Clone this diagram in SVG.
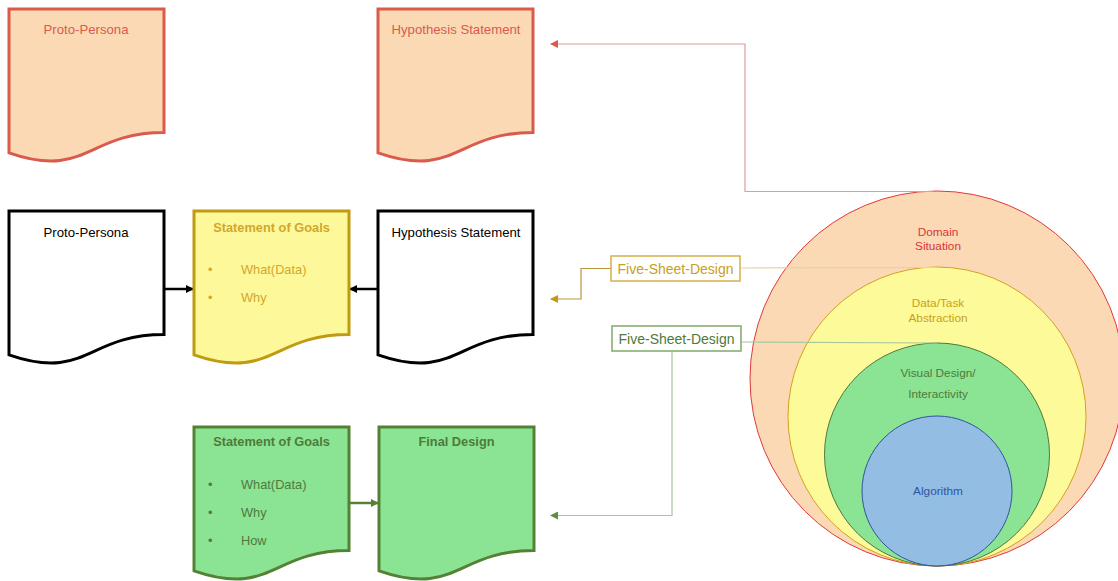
<svg xmlns="http://www.w3.org/2000/svg" xmlns:xlink="http://www.w3.org/1999/xlink" width="1118" height="581" viewBox="0 0 1118 581">
<style>
text{font-family:"Liberation Sans","Open Sans",sans-serif;}
.red{fill:#FBD9B5;stroke:#DA5A4B;stroke-width:3;}
.blk{fill:#ffffff;stroke:#000000;stroke-width:3;}
.yel{fill:#FDF99A;stroke:#C09A10;stroke-width:3;}
.grn{fill:#8AE494;stroke:#548235;stroke-width:3;}
.t{font-size:13.2px;text-anchor:middle;}
.b{font-weight:bold;font-size:12.8px;}
.li{font-size:12.8px;}
.ct{font-size:11.8px;text-anchor:middle;}
.fsd{font-size:14px;text-anchor:middle;}
</style>
<defs>
<path id="doc" d="M0,0 H155 V123.5 C77.5,123.5 77.5,170.6 0,143.8 Z"/>
<marker id="mBlk" markerWidth="8" markerHeight="8" refX="7" refY="4" orient="auto" markerUnits="userSpaceOnUse"><path d="M0,0 L8,4 L0,8 Z" fill="#000"/></marker>
<marker id="mGrn" markerWidth="8" markerHeight="8" refX="7" refY="4" orient="auto" markerUnits="userSpaceOnUse"><path d="M0,0 L8,4 L0,8 Z" fill="#548235"/></marker>
<marker id="mRed" markerWidth="8" markerHeight="8" refX="7" refY="4" orient="auto" markerUnits="userSpaceOnUse"><path d="M0,0 L8,4 L0,8 Z" fill="#DA5A4B"/></marker>
<marker id="mGold" markerWidth="8" markerHeight="8" refX="7" refY="4" orient="auto" markerUnits="userSpaceOnUse"><path d="M0,0 L8,4 L0,8 Z" fill="#C09A10"/></marker>
<marker id="mGrn2" markerWidth="8" markerHeight="8" refX="7" refY="4" orient="auto" markerUnits="userSpaceOnUse"><path d="M0,0 L8,4 L0,8 Z" fill="#5E8E42"/></marker>
</defs>

<g id="circles">
<ellipse cx="937" cy="378.5" rx="187" ry="187.5" fill="#FBD9B5" stroke="#E03A3A" stroke-width="1"/>
<ellipse cx="937" cy="416.5" rx="149" ry="149.5" fill="#FDFA9A" stroke="#D4A020" stroke-width="1"/>
<ellipse cx="937" cy="454.5" rx="112.5" ry="111.5" fill="#8AE494" stroke="#4E7A3A" stroke-width="1"/>
<ellipse cx="937" cy="491" rx="75" ry="75" fill="#93BDE2" stroke="#2F55A0" stroke-width="1"/>
<text class="ct" x="938" y="236" fill="#D9343A">Domain</text>
<text class="ct" x="938" y="250" fill="#D9343A">Situation</text>
<text class="ct" x="938" y="307" fill="#C9A020">Data/Task</text>
<text class="ct" x="938" y="322" fill="#C9A020">Abstraction</text>
<text class="ct" x="938" y="377" fill="#4E7A3A">Visual Design/</text>
<text class="ct" x="938" y="398" fill="#4E7A3A">Interactivity</text>
<text class="ct" x="938" y="495" fill="#2F55A0">Algorithm</text>
</g>

<g id="connectors" fill="none">
<line x1="164" y1="289" x2="193" y2="289" stroke="#000" stroke-width="2.5" marker-end="url(#mBlk)"/>
<line x1="378" y1="289" x2="350" y2="289" stroke="#000" stroke-width="2.5" marker-end="url(#mBlk)"/>
<line x1="349" y1="503" x2="378" y2="503" stroke="#548235" stroke-width="2.5" marker-end="url(#mGrn)"/>
<polyline points="933,191.5 745,191.5 745,44 551,44" stroke="#D9A0A0" stroke-width="1.2" marker-end="url(#mRed)"/>
<line x1="740" y1="268" x2="937" y2="267.5" stroke="#E2D3A6" stroke-width="1.2"/>
<polyline points="611,268.5 581,268.5 581,299 551,299" stroke="#B8953A" stroke-width="1.2" marker-end="url(#mGold)"/>
<line x1="741" y1="342" x2="937" y2="343" stroke="#A9C79A" stroke-width="1.2"/>
<polyline points="672,351 672,515.5 551,515.5" stroke="#A9C39A" stroke-width="1.2" marker-end="url(#mGrn2)"/>
</g>

<g id="fsd1">
<rect x="611" y="256" width="129" height="25" fill="#fff" stroke="#D4B04A" stroke-width="1.5"/>
<text class="fsd" x="675.5" y="273.5" fill="#C9A020">Five-Sheet-Design</text>
</g>
<g id="fsd2">
<rect x="612" y="326" width="129" height="25" fill="#fff" stroke="#7FA96A" stroke-width="1.5"/>
<text class="fsd" x="676.5" y="343.5" fill="#4E7A3A">Five-Sheet-Design</text>
</g>

<g id="proto-persona-1">
<use xlink:href="#doc" x="9" y="9" class="red"/>
<text class="t" x="86" y="34" fill="#DA5A4B">Proto-Persona</text>
</g>
<g id="hypothesis-1">
<use xlink:href="#doc" x="378" y="9" class="red"/>
<text class="t" x="456" y="34" fill="#DA5A4B">Hypothesis Statement</text>
</g>

<g id="proto-persona-2">
<use xlink:href="#doc" x="9" y="211" class="blk"/>
<text class="t" x="86" y="237" fill="#000">Proto-Persona</text>
</g>
<g id="goals-1">
<use xlink:href="#doc" x="194" y="211" class="yel"/>
<text class="t b" x="271.5" y="232" fill="#D4A62A">Statement of Goals</text>
<text class="li" x="208" y="274" fill="#D4A62A">•</text>
<text class="li" x="241" y="274" fill="#D4A62A">What(Data)</text>
<text class="li" x="208" y="302" fill="#D4A62A">•</text>
<text class="li" x="241" y="302" fill="#D4A62A">Why</text>
</g>
<g id="hypothesis-2">
<use xlink:href="#doc" x="378" y="211" class="blk"/>
<text class="t" x="456" y="237" fill="#000">Hypothesis Statement</text>
</g>

<g id="goals-2">
<use xlink:href="#doc" x="194" y="427" class="grn"/>
<text class="t b" x="271.5" y="446" fill="#4E7A3A">Statement of Goals</text>
<text class="li" x="208" y="489" fill="#4E7A3A">•</text>
<text class="li" x="241" y="489" fill="#4E7A3A">What(Data)</text>
<text class="li" x="208" y="517" fill="#4E7A3A">•</text>
<text class="li" x="241" y="517" fill="#4E7A3A">Why</text>
<text class="li" x="208" y="545" fill="#4E7A3A">•</text>
<text class="li" x="241" y="545" fill="#4E7A3A">How</text>
</g>
<g id="final-design">
<use xlink:href="#doc" x="379" y="427" class="grn"/>
<text class="t b" x="456.5" y="446" fill="#4E7A3A">Final Design</text>
</g>
</svg>
